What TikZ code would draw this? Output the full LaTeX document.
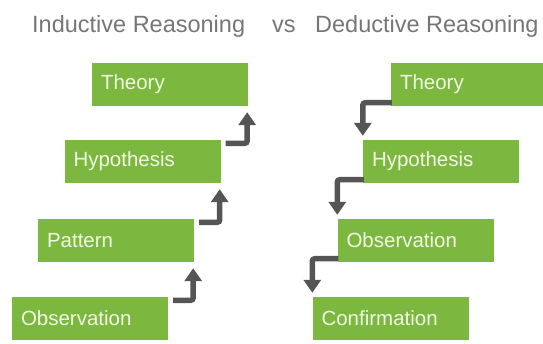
\documentclass[tikz,border=0pt]{standalone}
\usepackage{fontspec}
\setmainfont{Liberation Sans}
\usetikzlibrary{arrows.meta,calc}

\definecolor{stagegreen}{RGB}{124,184,64}
\definecolor{stagetext}{RGB}{240,248,226}
\definecolor{titlegray}{RGB}{118,118,118}
\definecolor{flowgray}{RGB}{85,85,85}

\begin{document}
\begin{tikzpicture}[
    x=1pt, y=-1pt,
    stage/.style={fill=stagegreen, text=stagetext, minimum height=43pt, text width=138pt, inner xsep=9pt, inner ysep=0pt, align=left, font=\fontsize{20.5}{22}\selectfont},
    heading/.style={anchor=base west, text=titlegray, inner sep=0pt, font=\fontsize{23.5}{26}\selectfont},
    flow/.style={line width=5.5pt, flowgray, rounded corners=2.5pt, -{Triangle[width=17pt,length=13pt]}}
]
\useasboundingbox (0,0) rectangle (543,343);

\node[heading] (indtitle) at (32,32) {Inductive Reasoning};
\node[heading] (vs) at (272,32) {vs};
\node[heading] (dedtitle) at (315,32) {Deductive Reasoning};

% inductive: climbing up
\node[stage] (ltheory) at (170,84.5) {Theory};
\node[stage] (lhypo) at (142.5,161.5) {Hypothesis};
\node[stage] (lpattern) at (116,240.5) {Pattern};
\node[stage] (lobs) at (90,318.5) {Observation};

% deductive: stepping down
\node[stage] (rtheory) at (469,84.5) {Theory};
\node[stage] (rhypo) at (441,161.5) {Hypothesis};
\node[stage] (robs) at (415.5,240.5) {Observation};
\node[stage] (rconf) at (390.5,318.5) {Confirmation};

\draw[flow] ($(lobs.north east)+(5,3.5)$) -| ($(lpattern.south east)+(-1,6)$);
\draw[flow] ($(lpattern.north east)+(5,3.5)$) -| ($(lhypo.south east)+(-1,6)$);
\draw[flow] ($(lhypo.north east)+(5,3.5)$) -| ($(ltheory.south east)+(-1,6)$);

\draw[flow] ($(rtheory.south west)+(1,-3.5)$) -| ($(rhypo.north west)+(0,-4)$);
\draw[flow] ($(rhypo.south west)+(1,-3.5)$) -| ($(robs.north west)+(0,-4)$);
\draw[flow] ($(robs.south west)+(1,-3.5)$) -| ($(rconf.north west)+(0,-4)$);
\end{tikzpicture}
\end{document}
